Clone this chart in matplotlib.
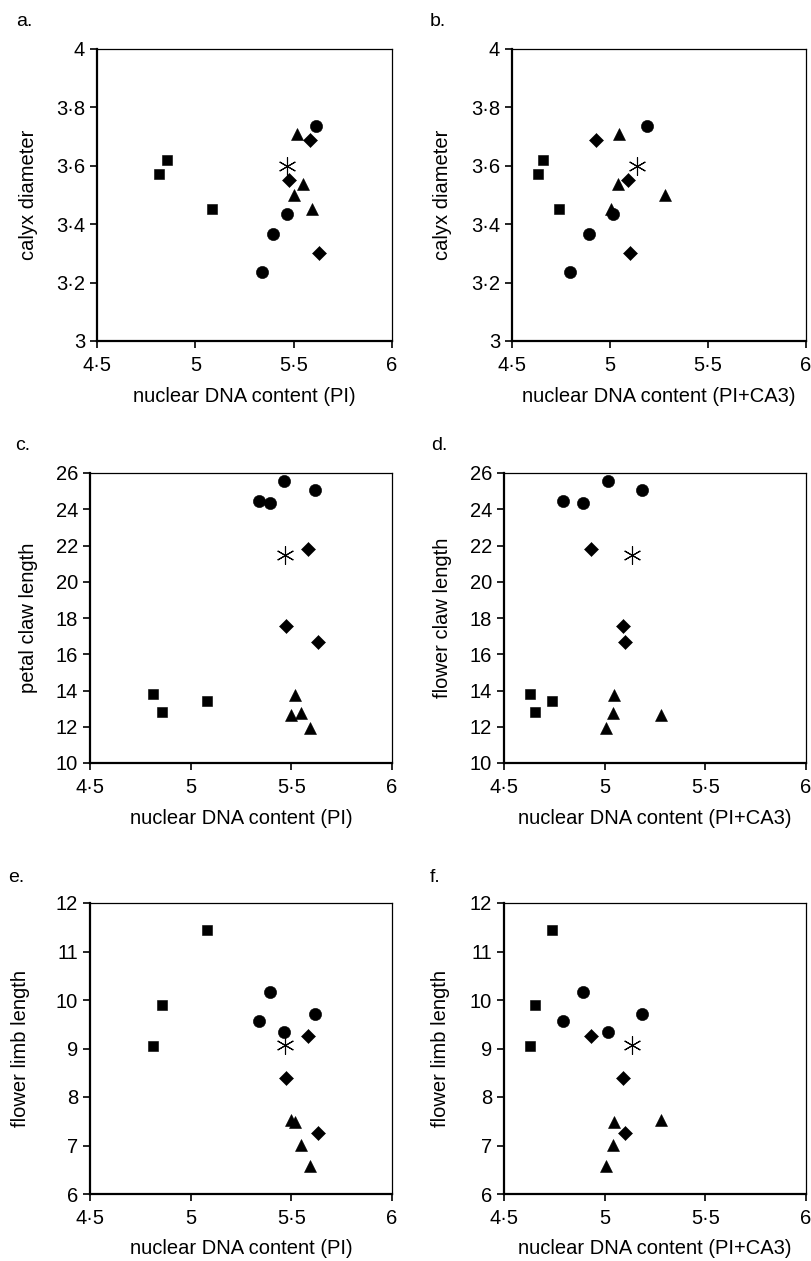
import matplotlib
matplotlib.use("Agg")
import matplotlib.pyplot as plt

plt.rcParams['font.family'] = ['Liberation Sans', 'DejaVu Sans']

# ---------------- data ----------------
circle_pi = [5.337, 5.396, 5.464, 5.616]
circle_ca3 = [4.795, 4.894, 5.017, 5.187]
circle_calyx = [3.235, 3.365, 3.434, 3.735]
circle_claw = [24.44, 24.35, 25.54, 25.05]
circle_limb = [9.567, 10.165, 9.333, 9.718]

square_pi = [4.814, 4.858, 5.083]
square_ca3 = [4.631, 4.656, 4.738]
square_calyx = [3.572, 3.621, 3.453]
square_claw = [13.82, 12.83, 13.43]
square_limb = [9.045, 9.90, 11.44]

triangle_pi = [5.500, 5.518, 5.548, 5.594]
triangle_ca3 = [5.279, 5.047, 5.040, 5.006]
triangle_calyx = [3.500, 3.708, 3.537, 3.451]
triangle_claw = [12.64, 13.74, 12.75, 11.93]
triangle_limb = [7.53, 7.48, 7.02, 6.57]

diamond_pi = [5.475, 5.583, 5.630]
diamond_ca3 = [5.092, 4.930, 5.101]
diamond_calyx = [3.551, 3.687, 3.300]
diamond_claw = [17.58, 21.80, 16.66]
diamond_limb = [8.385, 9.25, 7.258]

star_pi = [5.467]
star_ca3 = [5.136]
star_calyx = [3.600]
star_claw = [21.47]
star_limb = [9.08]

x_ticks = [4.5, 5.0, 5.5, 6.0]
x_tick_labels = ['4·5', '5', '5·5', '6']
calyx_ticks = [3.0, 3.2, 3.4, 3.6, 3.8, 4.0]
calyx_tick_labels = ['3', '3·2', '3·4', '3·6', '3·8', '4']
claw_ticks = [10, 12, 14, 16, 18, 20, 22, 24, 26]
claw_tick_labels = ['10', '12', '14', '16', '18', '20', '22', '24', '26']
limb_ticks = [6, 7, 8, 9, 10, 11, 12]
limb_tick_labels = ['6', '7', '8', '9', '10', '11', '12']

panel_letters = ['a.', 'b.', 'c.', 'd.', 'e.', 'f.']
x_labels = ['nuclear DNA content (PI)', 'nuclear DNA content (PI+CA3)']
y_labels = ['calyx diameter', 'calyx diameter', 'petal claw length',
            'flower claw length', 'flower limb length', 'flower limb length']

# ---------------- layout ----------------
W, H = 811, 1261
fig = plt.figure(figsize=(W / 100, H / 100), dpi=100)

# pixel boxes (left, right, top, bottom)
boxes = [(97, 392, 49, 341), (512, 806, 49, 341),
         (90, 392, 473, 763), (504, 806, 473, 763),
         (90, 392, 903, 1194), (504, 806, 903, 1194)]
ylabel_x = [29, 442, 29, 442, 21, 441]
letter_pos = [(16, 22), (430, 22), (15, 445), (431, 445), (8, 877), (430, 877)]

groups = [
    dict(pi=circle_pi, ca3=circle_ca3, calyx=circle_calyx, claw=circle_claw, limb=circle_limb,
         marker='o', ms=8.8),
    dict(pi=square_pi, ca3=square_ca3, calyx=square_calyx, claw=square_claw, limb=square_limb,
         marker='s', ms=6.9),
    dict(pi=triangle_pi, ca3=triangle_ca3, calyx=triangle_calyx, claw=triangle_claw, limb=triangle_limb,
         marker='^', ms=8.6),
    dict(pi=diamond_pi, ca3=diamond_ca3, calyx=diamond_calyx, claw=diamond_claw, limb=diamond_limb,
         marker='D', ms=7.0),
]
star = dict(pi=star_pi, ca3=star_ca3, calyx=star_calyx, claw=star_claw, limb=star_limb)

rows = [('calyx', (3, 4), calyx_ticks, calyx_tick_labels),
        ('claw', (10, 26), claw_ticks, claw_tick_labels),
        ('limb', (6, 12), limb_ticks, limb_tick_labels)]

TICK_FS = 14.5
LABEL_FS = 14.5

for i, (l, r, t, b) in enumerate(boxes):
    row = i // 2
    col = i % 2
    key, ylim, yt, ytl = rows[row]
    xkey = 'pi' if col == 0 else 'ca3'
    ax = fig.add_axes([l / W, (H - b) / H, (r - l) / W, (b - t) / H])
    for g in groups:
        ax.plot(g[xkey], g[key], linestyle='none', marker=g['marker'], ms=g['ms'],
                color='black', mec='black', mew=0.4, clip_on=False)
    ax.plot(star[xkey], star[key], linestyle='none', marker=(6, 2, 0), ms=13,
            color='black', mew=0.8)
    ax.set_xlim(4.5, 6.0)
    ax.set_ylim(*ylim)
    ax.set_xticks(x_ticks)
    ax.set_xticklabels(x_tick_labels, fontsize=TICK_FS)
    ax.set_yticks(yt)
    ax.set_yticklabels(ytl, fontsize=TICK_FS)
    ax.tick_params(direction='out', length=5, width=1.2, top=False, right=False)
    ax.tick_params(axis='x', pad=5.5)
    ax.tick_params(axis='y', pad=3.5)
    for s in ['left', 'bottom']:
        ax.spines[s].set_linewidth(1.6)
    for s in ['top', 'right']:
        ax.spines[s].set_linewidth(0.9)
    ax.set_xlabel(x_labels[col], fontsize=LABEL_FS)
    ax.xaxis.set_label_coords(0.5, -(55) / (b - t))
    ax.xaxis.label.set_va('center')
    ax.set_ylabel(y_labels[i], fontsize=LABEL_FS)
    ax.yaxis.set_label_coords((ylabel_x[i] - l) / (r - l), 0.5)
    ax.yaxis.label.set_va('center')
    lx, ly = letter_pos[i]
    fig.text(lx / W, 1 - ly / H, panel_letters[i], fontsize=14, ha='left', va='center')

fig.savefig('out.png', dpi=100)
